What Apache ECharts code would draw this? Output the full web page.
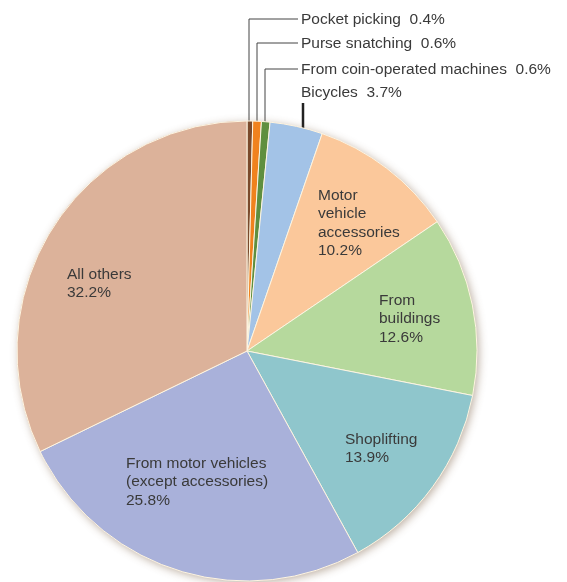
<!DOCTYPE html>
<html>
<head>
<meta charset="utf-8">
<script src="https://cdn.jsdelivr.net/npm/echarts@6/dist/echarts.min.js"></script>
<style>
  html, body { margin: 0; padding: 0; background: #fff; }
  #main { width: 567px; height: 582px; }
</style>
</head>
<body>
<div id="main"></div>
<script>
// categories clockwise from 12 o'clock
const categories = [
  'Pocket picking',
  'Purse snatching',
  'From coin-operated machines',
  'Bicycles',
  'Motor\nvehicle\naccessories',
  'From\nbuildings',
  'Shoplifting',
  'From motor vehicles\n(except accessories)',
  'All others'
]
const shares = [0.4, 0.6, 0.6, 3.7, 10.2, 12.6, 13.9, 25.8, 32.2]
const colors = ['#7a4a2c', '#f0821e', '#5f8f3f', '#a3c3e7', '#fbc89b', '#b6d99d', '#8fc6cc', '#a9b1da', '#dcb29a']

// label placement (top-left corner of the text block)
const labelPos = [
  [301, 10], [301, 34], [301, 60], [301, 83],
  [318, 186], [379, 291], [345, 430], [126, 454], [67, 265]
]
// leader lines for the thin slices
const leaders = {
  0: [[249, 123], [249, 19], [298, 19]],
  1: [[257, 123], [257, 43], [298, 43]],
  2: [[265, 124], [265, 69], [298, 69]],
  3: [[303, 135], [303, 119], [303, 103]]
}

const chart = echarts.init(document.getElementById('main'))
const total = shares.reduce((a, b) => a + b, 0)

const data = shares.map((v, i) => {
  const small = i < 4
  return {
    value: v,
    name: categories[i],
    itemStyle: { color: colors[i] },
    label: {
      position: small ? 'outside' : 'inside',
      formatter: small ? '{b}  {c}%' : '{b}\n{c}%'
    },
    labelLine: {
      show: small,
      lineStyle: i === 3 ? { color: '#222', width: 2.5 } : { color: '#444', width: 1 }
    }
  }
})

const option = {
  animation: false,
  series: [
    {
      type: 'pie',
      silent: true,
      center: [247, 351],
      radius: 230,
      label: { show: false },
      labelLine: { show: false },
      itemStyle: {
        color: '#dcb29a',
        shadowBlur: 8,
        shadowColor: 'rgba(110, 80, 50, 0.45)',
        shadowOffsetX: 2,
        shadowOffsetY: 2
      },
      data: [{ value: total, name: 'total' }]
    },
    {
      type: 'pie',
      center: [247, 351],
      radius: 230,
      startAngle: 90,
      clockwise: true,
      avoidLabelOverlap: false,
      itemStyle: { borderColor: '#fdf5e2', borderWidth: 1 },
      label: {
        show: true,
        fontFamily: 'Liberation Sans, Arial, sans-serif',
        fontSize: 15.5,
        lineHeight: 18.5,
        color: '#3a3a3a',
        align: 'left',
        overflow: 'none'
      },
      labelLayout: function (params) {
        const i = params.dataIndex
        const p = labelPos[i]
        const out = { x: p[0], y: p[1], align: 'left', verticalAlign: 'top' }
        if (leaders[i]) out.labelLinePoints = leaders[i]
        return out
      },
      data: data
    }
  ]
}

chart.setOption(option)
</script>
</body>
</html>
